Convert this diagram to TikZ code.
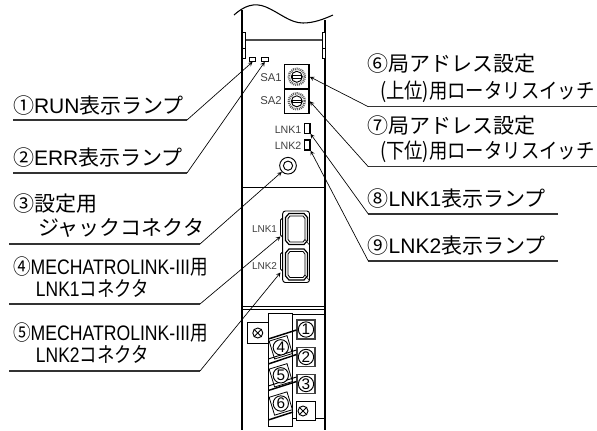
\documentclass[tikz,border=0pt]{standalone}
\usepackage{fontspec}
\setmainfont{Liberation Sans}
\newfontfamily\jpfont{Noto Sans CJK JP}
\newcommand{\J}[1]{{\jpfont #1}}
\tikzset{
  lab/.style={anchor=base west, inner sep=0pt, outer sep=0pt, font=\fontsize{15.75}{15.75}\selectfont, transform shape},
  small/.style={anchor=base east, inner sep=0pt, text=black!75, font=\fontsize{8}{8}\selectfont},
  lamp/.style={draw, fill=white, inner sep=0pt, line width=0.8pt},
  leader/.style={line width=0.5pt},
  under/.style={line width=0.9pt, black!80},
  termnum/.style={draw, circle, fill=white, inner sep=0pt, minimum size=11.5pt, line width=0.7pt, font=\fontsize{11.5}{11.5}\selectfont},
  screw/.style={draw, circle, inner sep=0pt, minimum size=7.5pt, line width=0.7pt},
  termbox/.style={draw=black!75, fill=white, line width=1pt, inner sep=0pt, minimum width=13.5pt, minimum height=14.2pt},
  skewbox/.style={draw, fill=white, rotate=17, inner sep=0pt, minimum size=14pt, line width=0.6pt}
}
\begin{document}
\begin{tikzpicture}[x=0.75pt, y=-0.75pt, >=stealth]
\useasboundingbox (0,0) rectangle (597,430);
% module outline
\draw[line width=0.8pt] (234,15) .. controls (244,6) and (254,2) .. (266,7) .. controls (280,13) and (290,23) .. (303,23) .. controls (314,23) and (324,19) .. (333,15);
\draw[line width=0.8pt] (242,10) -- (242,430);
\draw[line width=0.8pt] (325,20) -- (325,430);
\draw[line width=1.1pt, black!70] (246,40) -- (322,40);
\foreach \x in {242,322} {
  \draw[line width=0.7pt, fill=white] (\x,32) rectangle (\x+3.5,58);
  \draw[line width=0.7pt] (\x,48) -- (\x+3.5,48);
}
\draw[line width=0.7pt] (242,187.3) -- (325,187.3);
\draw[line width=1.1pt] (242,306.5) -- (325,306.5);
\draw[line width=0.5pt] (242,309) -- (325,309);
% lamps
\node[lamp, minimum width=5pt, minimum height=2.7pt] (run) at (252.6,59.5) {};
\node[lamp, minimum width=5pt, minimum height=2.7pt] (err) at (264.8,59.5) {};
\node[lamp, minimum width=4pt, minimum height=7.5pt] (lnkone) at (307.3,128.3) {};
\node[lamp, minimum width=4pt, minimum height=7.5pt] (lnktwo) at (307.3,145) {};
\node[small] (lnkonetxt) at (301.7,133.3) {LNK1};
\node[small] (lnktwotxt) at (301.7,149) {LNK2};
% rotary switches
\node[small, font=\fontsize{8.5}{8.5}\selectfont] (saonetxt) at (282,81.5) {SA1};
\node[small, font=\fontsize{8.5}{8.5}\selectfont] (satwotxt) at (282,104.5) {SA2};
\node[draw, line width=1.1pt, inner sep=0pt, minimum size=18.4pt] (saone) at (296.8,76.8) {};
\node[draw, line width=1.1pt, inner sep=0pt, minimum size=18.4pt] (satwo) at (296.8,101.3) {};
\foreach \n in {saone,satwo} {
  \draw[black!65, line width=1.8pt, dash pattern=on 0.7pt off 0.7pt] (\n.center) circle[radius=8];
  \draw[line width=0.7pt] (\n.center) circle[radius=5.5];
  \draw[line width=0.6pt, fill=white] ([xshift=-3.6pt,yshift=-1pt]\n.center) rectangle ([xshift=3.6pt,yshift=1pt]\n.center);
}
% jack
\node[draw, circle, inner sep=0pt, minimum size=12.5pt, line width=0.7pt] (jack) at (288,165.7) {};
\draw[line width=0.7pt] (jack.center) circle[radius=4.6];
% connectors
\node[small, font=\fontsize{7.5}{7.5}\selectfont] (cnonetxt) at (277.3,232) {LNK1};
\node[small, font=\fontsize{7.5}{7.5}\selectfont] (cntwotxt) at (277.3,269.3) {LNK2};
\draw[line width=0.7pt, rounded corners=2pt] (282.7,211) rectangle (309.5,282.5);
\foreach \y in {218,252} {
  \draw[line width=0.7pt] (282.7,\y) -- (280.5,\y+2) -- (280.5,\y+17) -- (282.7,\y+19);
}
\foreach \y in {213.5,249} {
  \draw[line width=0.9pt] (289,\y) -- (304,\y) -- (307.5,\y+4) -- (307.5,\y+27) -- (304,\y+31) -- (289,\y+31) -- (285.5,\y+27) -- (285.5,\y+4) -- cycle;
  \draw[line width=0.6pt] (290,\y+2.5) -- (303,\y+2.5) -- (305,\y+5) -- (305,\y+26) -- (303,\y+28.5) -- (290,\y+28.5) -- (288,\y+26) -- (288,\y+5) -- cycle;
  \draw[line width=0.4pt] (305,\y+26) -- (309,\y+31);
}
% terminal block
\draw[line width=0.7pt] (268.3,322) -- (268.3,313.3) -- (292.3,313.3) -- (292.3,426.5) -- (268.3,426.5) -- (268.3,343.5);
\draw[line width=0.7pt] (292.3,314) -- (325,314);
\draw[line width=0.7pt] (292.3,418.5) -- (325,418.5);
\node[draw, inner sep=0pt, minimum size=15.75pt, line width=0.7pt] (leftbox) at (257.8,333) {};
\node[screw] (screwa) at (leftbox.center) {};
\node[termbox] (boxa) at (306,329.5) {};
\node[termbox] (boxb) at (306,357) {};
\node[termbox] (boxc) at (306,384) {};
\node[draw, fill=white, line width=0.7pt, inner sep=0pt, minimum width=14.2pt, minimum height=13.8pt] (boxd) at (305.5,411) {};
\node[skewbox] (boxe) at (280.8,347.3) {};
\node[skewbox] (boxf) at (280.8,375.3) {};
\node[skewbox] (boxg) at (280.8,403.5) {};
\draw[line width=1.1pt] (268.3,339) -- (296.5,330);
\draw[line width=1.1pt] (268.3,364) -- (296.5,354.5);
\draw[line width=0.7pt] (268.3,359) -- (296.5,350);
\draw[line width=1.1pt] (268.3,390.5) -- (296.5,381.5);
\draw[line width=0.7pt] (268.3,386) -- (296.5,377);
\draw[line width=1.1pt] (268.3,420) -- (293,412);
\node[termnum] (tone) at (boxa.center) {1};
\node[termnum] (ttwo) at (boxb.center) {2};
\node[termnum] (tthree) at (boxc.center) {3};
\node[termnum] (tfour) at (boxe.center) {4};
\node[termnum] (tfive) at (boxf.center) {5};
\node[termnum] (tsix) at (boxg.center) {6};
\node[screw] (screwb) at (303,411) {};
\foreach \n in {screwa,screwb} {
  \draw[line width=0.7pt] (\n.north west) -- (\n.south east);
  \draw[line width=0.7pt] (\n.north east) -- (\n.south west);
}
% labels on the left
\node[lab] (labone) at (13,113) {\J{①}RUN\J{表示ランプ}};
\node[lab] (labtwo) at (13,165.7) {\J{②}ERR\J{表示ランプ}};
\node[lab] (labthree) at (13,211.7) {\J{③設定用}};
\node[lab] (labthreeb) at (38,235) {\J{ジャックコネクタ}};
\node[lab, xscale=0.84] (labfour) at (13,274) {\J{④}MECHATROLINK-III\J{用}};
\node[lab, xscale=0.83] (labfourb) at (36,296) {LNK1\J{コネクタ}};
\node[lab, xscale=0.84] (labfive) at (13,340.7) {\J{⑤}MECHATROLINK-III\J{用}};
\node[lab, xscale=0.83] (labfiveb) at (36,362.7) {LNK2\J{コネクタ}};
% labels on the right
\node[lab] (labsix) at (367.7,71.7) {\J{⑥局アドレス設定}};
\node[lab, xscale=0.875] (labsixb) at (380,98.3) {\J{(上位)用ロータリスイッチ}};
\node[lab] (labseven) at (367.7,133) {\J{⑦局アドレス設定}};
\node[lab, xscale=0.875] (labsevenb) at (380,158) {\J{(下位)用ロータリスイッチ}};
\node[lab] (labeight) at (367.7,206.7) {\J{⑧}LNK1\J{表示ランプ}};
\node[lab] (labnine) at (367.7,253) {\J{⑨}LNK2\J{表示ランプ}};
% leaders
\coordinate (aa) at (13,120);    \coordinate (ab) at (187,120);
\coordinate (ba) at (13,173);    \coordinate (bb) at (187,173);
\coordinate (ca) at (9,244);     \coordinate (cb) at (200,244);
\coordinate (da) at (9,304);     \coordinate (db) at (200,304);
\coordinate (ea) at (9,371);     \coordinate (eb) at (200,371);
\coordinate (fa) at (597,106.7); \coordinate (fb) at (368.3,106.7);
\coordinate (ga) at (597,166.7); \coordinate (gb) at (368.3,166.7);
\coordinate (ha) at (558,214);   \coordinate (hb) at (368.3,214);
\coordinate (ia) at (558,261);   \coordinate (ib) at (368.3,261);
\coordinate (tabone) at (280.5,236.5);
\coordinate (tabtwo) at (280.5,272.5);
\foreach \p/\q in {aa/ab,ba/bb,ca/cb,da/db,ea/eb,fa/fb,ga/gb,ha/hb,ia/ib}
  \draw[under] (\p) -- (\q);
\draw[leader,->] (ab) -- (run.south);
\draw[leader,->] (bb) -- (err.south);
\draw[leader,->] (cb) -- (jack.south west);
\draw[leader,->] (db) -- (tabone);
\draw[leader,->] (eb) -- (tabtwo);
\draw[leader,->] (fb) -- (saone.east);
\draw[leader,->] (gb) -- (satwo.east);
\draw[leader,->] (hb) -- (lnkone.south east);
\draw[leader,->] (ib) -- (lnktwo.south east);
\end{tikzpicture}
\end{document}
